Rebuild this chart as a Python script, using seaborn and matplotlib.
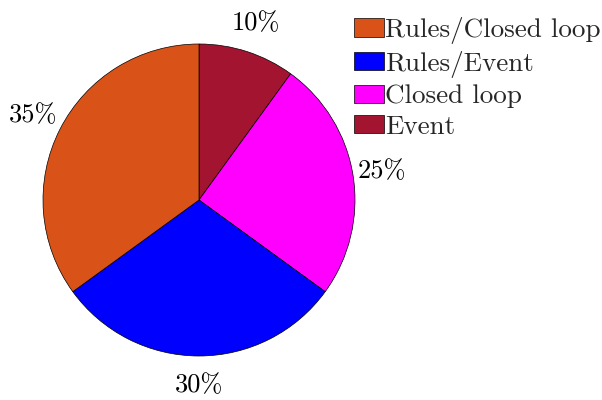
import matplotlib
matplotlib.use("Agg")
import matplotlib.pyplot as plt
import seaborn as sns

# Share of control strategies
categories = ["Event", "Closed loop", "Rules/Event", "Rules/Closed loop"]
shares = [10, 25, 30, 35]
colors = ["#A2142F", "#FF00FF", "#0000FF", "#D95319"]
legend_order = ["Rules/Closed loop", "Rules/Event", "Closed loop", "Event"]

sns.set_theme(style="white")
plt.rcParams["font.family"] = ["cmr10", "DejaVu Sans"]
plt.rcParams["axes.unicode_minus"] = False
plt.rcParams["mathtext.fontset"] = "cm"

fig = plt.figure(figsize=(6.02, 4.00), dpi=100)
cx, cy, r = 199, 200, 156
ax = fig.add_axes([(cx - r) / 602, (cy - r) / 400, 2 * r / 602, 2 * r / 400])

wedges, _, autotexts = ax.pie(
    shares,
    colors=colors,
    startangle=90,
    counterclock=False,
    autopct=lambda p: f"{p:.0f}%",
    pctdistance=1.19,
    wedgeprops=dict(edgecolor="black", linewidth=0.5),
    textprops=dict(fontsize=19, color="black"),
)
for t in autotexts:
    t.set_clip_on(False)
ax.set_xlim(-1, 1)
ax.set_ylim(-1, 1)
ax.set_aspect("equal")
ax.axis("off")

handle_map = dict(zip(categories, wedges))
leg = fig.legend(
    [handle_map[c] for c in legend_order],
    legend_order,
    loc="upper left",
    bbox_to_anchor=(354 / 602, 1 - 17 / 400),
    frameon=False,
    fontsize=19.5,
    handlelength=1.1,
    handleheight=0.65,
    handletextpad=0.05,
    labelspacing=0.25,
    borderpad=0,
    borderaxespad=0,
)

fig.savefig("out.png", dpi=100)
